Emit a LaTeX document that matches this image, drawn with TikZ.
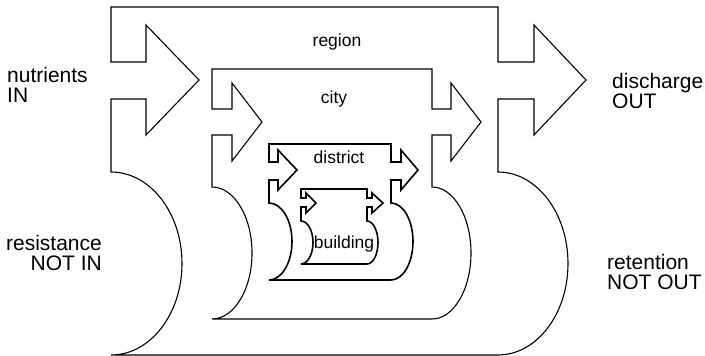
\documentclass[tikz,border=0pt]{standalone}
\usepackage{fontspec}
\setmainfont{Liberation Sans}
\begin{document}
\begin{tikzpicture}[x=1pt,y=-1pt,
  outline/.style={draw=black, line width=1.1pt, line join=miter},
  thick outline/.style={outline, line width=1.6pt},
  tag/.style={font=\fontsize{17.5}{20}\selectfont, inner sep=0pt},
  side/.style={font=\fontsize{21}{19.5}\selectfont, inner sep=0pt},
]
\useasboundingbox (0,0) rectangle (705,356);

% region
\draw[outline] (111,7) -- (498,7) -- (498,62) -- (534,62) -- (534,25) -- (586,80)
  -- (534,135) -- (534,99) -- (498,99) -- (498,172)
  arc[start angle=90, end angle=-90, x radius=70pt, y radius=91.5pt]
  -- (111,355)
  arc[start angle=-90, end angle=90, x radius=71pt, y radius=91.5pt]
  -- (111,99) -- (146,99) -- (146,135) -- (199,80) -- (146,25) -- (146,62)
  -- (111,62) -- cycle;

% city
\draw[outline] (212,69) -- (432,69) -- (432,109) -- (451,109) -- (451,83) -- (481,122)
  -- (451,161) -- (451,135) -- (432,135) -- (432,187)
  arc[start angle=90, end angle=-90, x radius=39pt, y radius=66pt]
  -- (212,319)
  arc[start angle=-90, end angle=90, x radius=40pt, y radius=66pt]
  -- (212,135) -- (232,135) -- (232,161) -- (262,122) -- (232,83) -- (232,109)
  -- (212,109) -- cycle;

% district
\draw[thick outline] (269,144) -- (391,144) -- (391,162) -- (401,162) -- (401,150) -- (418,170)
  -- (401,190) -- (401,180) -- (391,180) -- (391,203)
  arc[start angle=90, end angle=-90, x radius=22pt, y radius=38.5pt]
  -- (269,280)
  arc[start angle=-90, end angle=90, x radius=23pt, y radius=38.5pt]
  -- (269,180) -- (278,180) -- (278,190) -- (297,170) -- (278,150) -- (278,162)
  -- (269,162) -- cycle;

% building
\draw[thick outline] (301,189) -- (367,189) -- (367,198) -- (372,198) -- (372,193) -- (383,203)
  -- (372,213) -- (372,207) -- (367,207) -- (367,221)
  arc[start angle=90, end angle=-90, x radius=11pt, y radius=21.5pt]
  -- (301,264)
  arc[start angle=-90, end angle=90, x radius=12pt, y radius=21.5pt]
  -- (301,207) -- (306,207) -- (306,213) -- (316,203) -- (306,193) -- (306,198)
  -- (301,198) -- cycle;

% scale labels
\node[tag, anchor=base] (region) at (337,46) {region};
\node[tag, anchor=base] (city) at (334,103) {city};
\node[tag, anchor=base] (district) at (339,163) {district};
\node[tag, anchor=base] (building) at (344,248) {building};

% flow labels (anchored on the baseline of the last line)
\node[side, align=left, anchor=base west] (nutrients) at (7,102) {nutrients\\IN};
\node[side, align=right, anchor=base east] (resistance) at (102,270) {resistance\\NOT IN};
\node[side, align=left, anchor=base west] (discharge) at (612,108) {discharge\\OUT};
\node[side, align=left, anchor=base west] (retention) at (607,289) {retention\\NOT OUT};
\end{tikzpicture}
\end{document}
